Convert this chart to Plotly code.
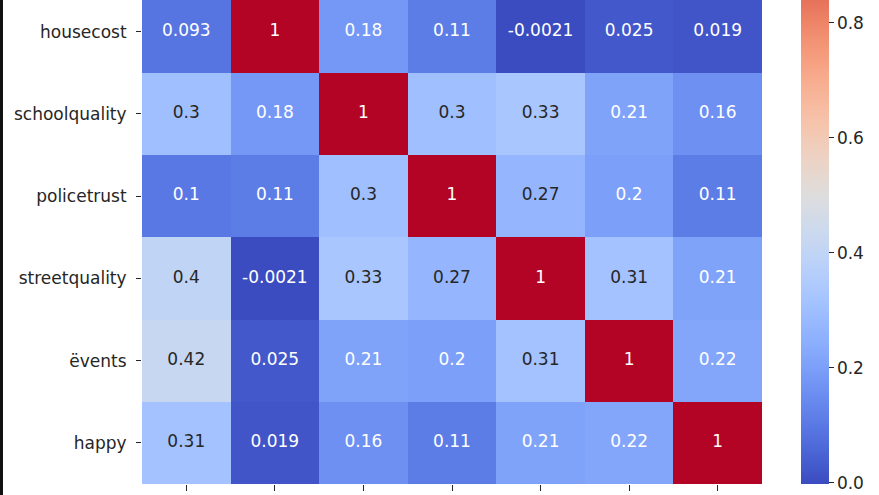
import plotly.graph_objects as go

# ---- data ----
variables = ["infoavail", "housecost", "schoolquality", "policetrust",
             "streetquality", "ëvents", "happy"]
row_infoavail = [1, 0.093, 0.3, 0.1, 0.4, 0.42, 0.31]
row_housecost = [0.093, 1, 0.18, 0.11, -0.0021, 0.025, 0.019]
row_schoolquality = [0.3, 0.18, 1, 0.3, 0.33, 0.21, 0.16]
row_policetrust = [0.1, 0.11, 0.3, 1, 0.27, 0.2, 0.11]
row_streetquality = [0.4, -0.0021, 0.33, 0.27, 1, 0.31, 0.21]
row_events = [0.42, 0.025, 0.21, 0.2, 0.31, 1, 0.22]
row_happy = [0.31, 0.019, 0.16, 0.11, 0.21, 0.22, 1]
corr = [row_infoavail, row_housecost, row_schoolquality, row_policetrust,
        row_streetquality, row_events, row_happy]
colorbar_ticks = [0.0, 0.2, 0.4, 0.6, 0.8, 1.0]

# matplotlib "coolwarm" (Moreland) control points
cw = [(59, 76, 192), (68, 90, 204), (77, 104, 215), (87, 117, 225), (98, 130, 234),
      (108, 142, 241), (119, 154, 247), (130, 165, 251), (141, 176, 254), (152, 185, 255),
      (163, 194, 255), (174, 201, 253), (184, 208, 249), (194, 213, 244), (204, 217, 238),
      (213, 219, 230), (221, 221, 221), (229, 216, 209), (236, 211, 197), (241, 204, 184),
      (245, 196, 172), (247, 187, 160), (247, 177, 148), (247, 166, 135), (244, 154, 123),
      (241, 141, 111), (236, 127, 99), (229, 112, 88), (222, 96, 77), (213, 80, 66),
      (203, 62, 56), (192, 40, 47), (180, 4, 38)]
n = len(cw) - 1
colorscale = [[i / n, "rgb(%d,%d,%d)" % c] for i, c in enumerate(cw)]

zmin = min(min(r) for r in corr)
zmax = 1.0


def cmap(v):
    t = (v - zmin) / (zmax - zmin)
    t = max(0.0, min(1.0, t))
    p = t * n
    i = min(int(p), n - 1)
    f = p - i
    return [cw[i][k] + (cw[i + 1][k] - cw[i][k]) * f for k in range(3)]


def lum(rgb):
    out = []
    for c in rgb:
        c = c / 255.0
        out.append(c / 12.92 if c <= 0.03928 else ((c + 0.055) / 1.055) ** 2.4)
    return 0.2126 * out[0] + 0.7152 * out[1] + 0.0722 * out[2]


# page body margin is removed (post_script), so figure coords = page coords
W, H = 879, 495
left, right, bottom = 142, 762, 484
ml, mr, mt = left, W - right, 0
mb = H - bottom
plot_h = H - mt - mb
row_px = 82.2
top_px = -91.7  # top edge of heatmap (above visible page)
y_top = -0.5 + (0 - top_px) / row_px

idx = list(range(len(variables)))
tx, ty, tt, tc = [], [], [], []
for r in idx:
    if r < y_top:  # row scrolled out of view
        continue
    for c in idx:
        v = corr[r][c]
        tx.append(c)
        ty.append(r)
        tt.append(format(v, ".2g"))
        tc.append("#262626" if lum(cmap(v)) > 0.408 else "#ffffff")

font = "DejaVu Sans"
fs = 17
fig = go.Figure()
fig.add_trace(go.Heatmap(
    z=corr, x=idx, y=idx, colorscale=colorscale, zmin=zmin, zmax=zmax,
    hoverinfo="skip",
    colorbar=dict(
        thickness=28, len=(plot_h - top_px) / plot_h, lenmode="fraction",
        y=0, yanchor="bottom", ypad=0,
        x=(801 - ml) / (right - ml), xanchor="left", xpad=0,
        outlinewidth=0, tickvals=colorbar_ticks,
        ticktext=["%.1f" % v for v in colorbar_ticks],
        ticks="outside", ticklen=5, tickcolor="#262626",
        tickfont=dict(family=font, size=fs, color="#262626"),
    ),
))
fig.add_trace(go.Scatter(
    x=tx, y=ty, text=tt, mode="text", cliponaxis=True,
    textfont=dict(family=font, size=fs, color=tc),
    hoverinfo="skip", showlegend=False,
))

fig.update_xaxes(range=[-0.5, 6.5], tickvals=idx, showticklabels=False,
                 ticks="outside", ticklen=6, tickcolor="#262626",
                 showgrid=False, zeroline=False, showline=False)
fig.update_yaxes(range=[6.5, y_top], tickvals=idx, ticktext=variables,
                 ticks="outside", ticklen=5, tickcolor="#262626",
                 ticklabelstandoff=6,
                 tickfont=dict(family=font, size=fs, color="#262626"),
                 showgrid=False, zeroline=False, showline=False)

# black frame strip at the left edge of the screenshot
fig.add_shape(type="rect", xref="paper", yref="paper",
              x0=(0 - ml) / (right - ml), x1=(3 - ml) / (right - ml),
              y0=-mb / plot_h, y1=1.0, fillcolor="#111111", line_width=0,
              layer="above")

fig.update_layout(width=W, height=H,
                  margin=dict(l=ml, r=mr, t=mt, b=mb, autoexpand=False),
                  paper_bgcolor="white", plot_bgcolor="white",
                  font=dict(family=font))
fig.write_html("out.html",
               config={"displayModeBar": False, "staticPlot": True},
               post_script="document.body.style.margin='0';"
                           "document.body.style.overflow='hidden';")
